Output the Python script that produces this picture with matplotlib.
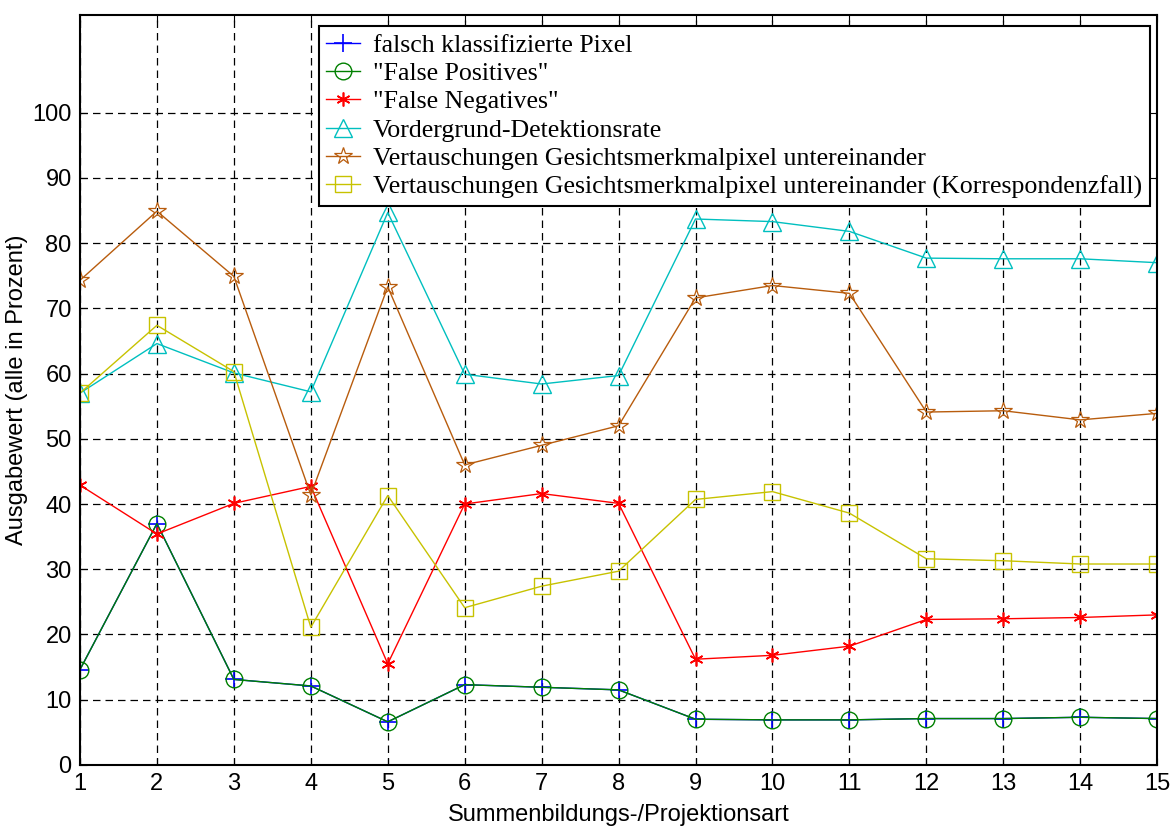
import numpy as np
import matplotlib.pyplot as plt

x = np.arange(1, 16)

# Werte in Prozent
falsch = [14.6, 37.0, 13.1, 12.1, 6.6, 12.3, 11.9, 11.5, 7.0, 6.9, 6.9, 7.1, 7.1, 7.3, 7.1]
false_pos = [14.6, 37.0, 13.1, 12.1, 6.6, 12.3, 11.9, 11.5, 7.0, 6.9, 6.9, 7.1, 7.1, 7.3, 7.1]
false_neg = [42.9, 35.4, 40.1, 42.7, 15.5, 40.0, 41.6, 40.1, 16.2, 16.8, 18.2, 22.3, 22.4, 22.6, 23.0]
vordergrund = [57.0, 64.6, 60.1, 57.2, 84.7, 59.9, 58.4, 59.7, 83.7, 83.3, 81.8, 77.7, 77.6, 77.6, 77.0]
vertausch = [74.3, 84.9, 74.9, 41.4, 73.3, 46.0, 49.0, 52.0, 71.6, 73.5, 72.3, 54.1, 54.3, 52.9, 53.9]
vertausch_korr = [57.0, 67.4, 60.3, 21.1, 41.3, 24.1, 27.4, 29.7, 40.7, 41.9, 38.6, 31.6, 31.3, 30.8, 30.8]

labels = ['falsch klassifizierte Pixel',
          '"False Positives"',
          '"False Negatives"',
          'Vordergrund-Detektionsrate',
          'Vertauschungen Gesichtsmerkmalpixel untereinander',
          'Vertauschungen Gesichtsmerkmalpixel untereinander (Korrespondenzfall)']

plt.rcParams['font.family'] = ['Liberation Sans', 'DejaVu Sans']

fig = plt.figure(figsize=(11.76, 8.26), dpi=100)
ax = fig.add_axes([0.068, 0.074, 0.916, 0.908])

lw = 1.0
ax.plot(x, falsch, color='blue', marker='+', ms=13, mew=1.2, lw=lw, label=labels[0])
ax.plot(x, false_pos, color=(0, 0.5, 0), marker='o', ms=12, mfc='none', mew=1.0, lw=lw, label=labels[1])
ax.plot(x, false_neg, color='red', marker=(6, 2, 0), ms=10, mew=1.2, lw=lw, label=labels[2])
ax.plot(x, vordergrund, color=(0, 0.75, 0.75), marker='^', ms=13, mfc='none', mew=1.0, lw=lw, label=labels[3])
ax.plot(x, vertausch, color=(0.72, 0.36, 0.05), marker='*', ms=13, mfc='none', mew=0.9, lw=lw, label=labels[4])
ax.plot(x, vertausch_korr, color=(0.78, 0.76, 0.0), marker='s', ms=11, mfc='none', mew=1.0, lw=lw, label=labels[5])

ax.set_xlim(1, 15)
ax.set_ylim(0, 115)
ax.set_xticks(x)
ax.set_yticks(np.arange(0, 101, 10))
ax.tick_params(direction='in', top=True, right=True, length=5, labelsize=17, pad=6)
ax.grid(True, color='black', linestyle=(0, (6, 4)), linewidth=0.9)
for s in ax.spines.values():
    s.set_linewidth(1.5)

ax.set_xlabel('Summenbildungs-/Projektionsart', fontsize=17, labelpad=6)
ax.set_ylabel('Ausgabewert (alle in Prozent)', fontsize=17, labelpad=3)

leg = ax.legend(loc='upper right', bbox_to_anchor=(0.993, 0.985), fancybox=False,
                framealpha=1, edgecolor='black', prop={'family': 'Liberation Serif', 'size': 18.6},
                handlelength=1.3, borderpad=0.3, labelspacing=0.2, handletextpad=0.5, borderaxespad=0)
leg.get_frame().set_linewidth(1.5)

plt.savefig('out.png', dpi=100)
